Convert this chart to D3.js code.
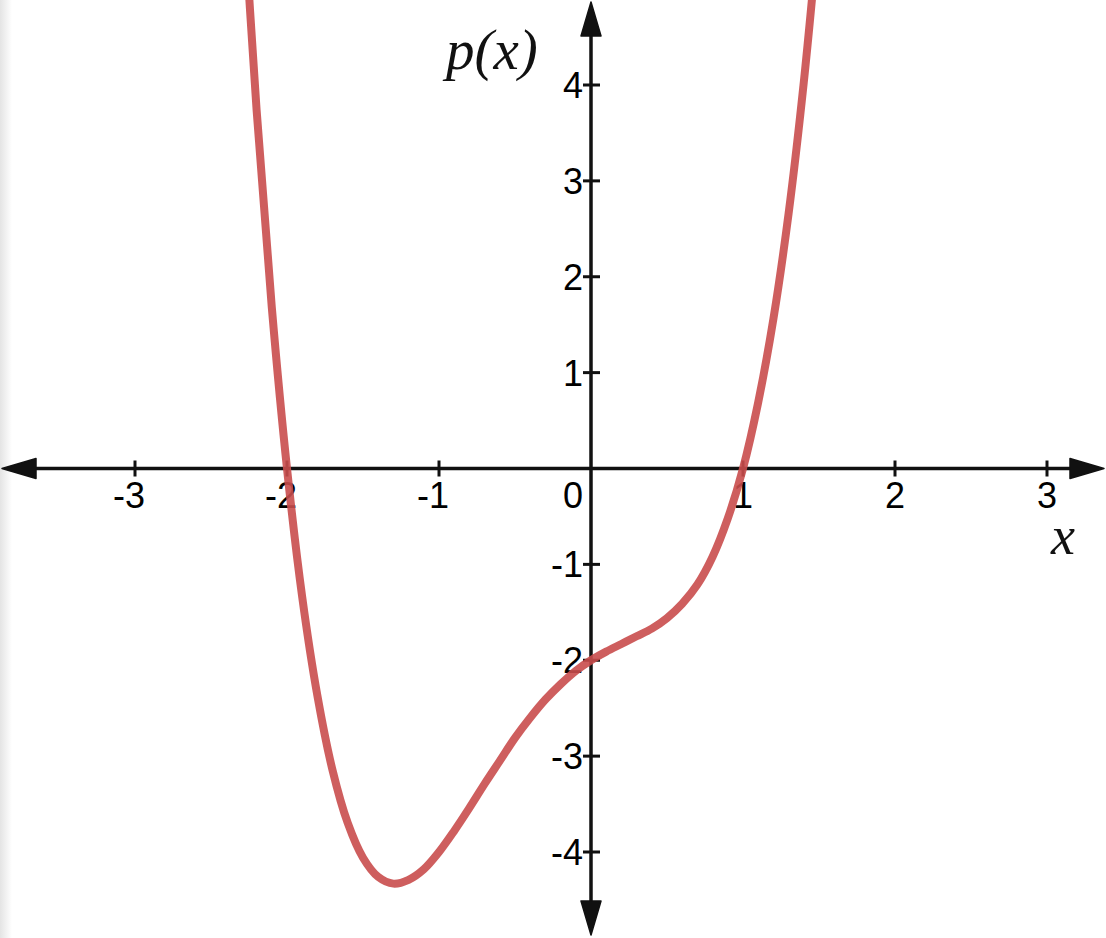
<!DOCTYPE html>
<html>
<head>
<meta charset="utf-8">
<script src="https://cdn.jsdelivr.net/npm/d3@7/dist/d3.min.js"></script>
<style>
  html, body { margin: 0; padding: 0; background: #fff; }
  svg { display: block; }
</style>
</head>
<body>
<svg id="chart" width="1106" height="938"></svg>
<script>
// ---- data ----
const xTicks = [-3, -2, -1, 0, 1, 2, 3];
const yTicks = [-4, -3, -2, -1, 1, 2, 3, 4];
const xLabels = ["-3", "-2", "-1", "0", "1", "2", "3"];
const yLabels = ["-4", "-3", "-2", "-1", "1", "2", "3", "4"];
const curveX = [-2.3, -2.2, -2.1, -2.0, -1.9, -1.8, -1.7, -1.6, -1.5, -1.4, -1.3, -1.2, -1.1, -1.0,
                -0.9, -0.8, -0.7, -0.6, -0.5, -0.4, -0.3, -0.2, -0.1, 0.0, 0.1, 0.2, 0.3, 0.4,
                0.5, 0.6, 0.7, 0.8, 0.9, 1.0, 1.1, 1.2, 1.3, 1.4, 1.5];
const curveY = [6.23, 3.74, 1.68, 0.0, -1.34, -2.37, -3.15, -3.70, -4.06, -4.26, -4.33, -4.29, -4.18, -4.0,
                -3.78, -3.54, -3.29, -3.05, -2.81, -2.60, -2.41, -2.25, -2.11, -2.0, -1.91, -1.83, -1.75, -1.67,
                -1.56, -1.41, -1.21, -0.92, -0.52, 0.0, 0.69, 1.56, 2.66, 4.03, 5.69];
const xAxisLabel = "x";
const yAxisLabel = "p(x)";

// ---- drawing ----
const W = 1106, H = 938;
const svg = d3.select("#chart");

const x = d3.scaleLinear().domain([-3, 3]).range([135, 1047]);
const y = d3.scaleLinear().domain([-4, 4]).range([852, 85]);
const x0 = x(0), y0 = y(0);

// faint gray edge at left
const defs = svg.append("defs");
const grad = defs.append("linearGradient").attr("id", "edge").attr("x1", 0).attr("x2", 1).attr("y1", 0).attr("y2", 0);
grad.append("stop").attr("offset", 0).attr("stop-color", "#e4e4e4");
grad.append("stop").attr("offset", 1).attr("stop-color", "#ffffff");
svg.append("rect").attr("x", 0).attr("y", 0).attr("width", 12).attr("height", H).attr("fill", "url(#edge)");

const axisColor = "#111";
const g = svg.append("g");

// axis lines
g.append("line").attr("x1", 20).attr("x2", W - 20).attr("y1", y0).attr("y2", y0)
  .attr("stroke", axisColor).attr("stroke-width", 3.5);
g.append("line").attr("x1", x0).attr("x2", x0).attr("y1", 20).attr("y2", H - 20)
  .attr("stroke", axisColor).attr("stroke-width", 3.5);

// arrowheads
const ah = 34, hw = 10;
g.append("path").attr("d", `M2,${y0} L${2 + ah},${y0 - hw} L${2 + ah},${y0 + hw} Z`).attr("fill", axisColor)
  .attr("stroke", axisColor).attr("stroke-width", 1.5).attr("stroke-linejoin", "round");
g.append("path").attr("d", `M${W - 2},${y0} L${W - 2 - ah},${y0 - hw} L${W - 2 - ah},${y0 + hw} Z`).attr("fill", axisColor)
  .attr("stroke", axisColor).attr("stroke-width", 1.5).attr("stroke-linejoin", "round");
g.append("path").attr("d", `M${x0},2 L${x0 - hw},${2 + ah} L${x0 + hw},${2 + ah} Z`).attr("fill", axisColor)
  .attr("stroke", axisColor).attr("stroke-width", 1.5).attr("stroke-linejoin", "round");
g.append("path").attr("d", `M${x0},${H - 3} L${x0 - hw},${H - 3 - ah} L${x0 + hw},${H - 3 - ah} Z`).attr("fill", axisColor)
  .attr("stroke", axisColor).attr("stroke-width", 1.5).attr("stroke-linejoin", "round");

// x ticks
xTicks.forEach((t, i) => {
  if (t !== 0) {
    g.append("line").attr("x1", x(t)).attr("x2", x(t)).attr("y1", y0 - 8).attr("y2", y0 + 8)
      .attr("stroke", axisColor).attr("stroke-width", 3);
  }
  g.append("text")
    .attr("x", t === 0 ? x(t) - 8 : x(t) + 10)
    .attr("y", y0 + 39)
    .attr("text-anchor", "end")
    .attr("font-family", "'Liberation Sans', Arial, sans-serif")
    .attr("font-size", 36)
    .attr("fill", "#000")
    .text(xLabels[i]);
});

// y ticks
yTicks.forEach((t, i) => {
  g.append("line").attr("x1", x0 - 8).attr("x2", x0 + 9).attr("y1", y(t)).attr("y2", y(t))
    .attr("stroke", axisColor).attr("stroke-width", 3);
  g.append("text")
    .attr("x", x0 - 8)
    .attr("y", y(t) + 13)
    .attr("text-anchor", "end")
    .attr("font-family", "'Liberation Sans', Arial, sans-serif")
    .attr("font-size", 36)
    .attr("fill", "#000")
    .text(yLabels[i]);
});

// axis labels
svg.append("text").attr("x", 1063).attr("y", 554).attr("text-anchor", "middle")
  .attr("font-family", "'Liberation Serif', 'Times New Roman', serif").attr("font-style", "italic")
  .attr("font-size", 54).attr("fill", "#111").text(xAxisLabel);
svg.append("text").attr("x", 446).attr("y", 69).attr("text-anchor", "start")
  .attr("font-family", "'Liberation Serif', 'Times New Roman', serif").attr("font-style", "italic")
  .attr("font-size", 57).attr("fill", "#111").text(yAxisLabel);

// curve
defs.append("clipPath").attr("id", "clip").append("rect").attr("x", 0).attr("y", 0).attr("width", W).attr("height", H);
const pts = curveX.map((v, i) => [v, curveY[i]]);
const line = d3.line().x(d => x(d[0])).y(d => y(d[1])).curve(d3.curveCatmullRom.alpha(0.5));
svg.append("path").datum(pts)
  .attr("clip-path", "url(#clip)")
  .attr("d", line)
  .attr("fill", "none")
  .attr("stroke", "#c94c4c")
  .attr("stroke-opacity", 0.9)
  .attr("stroke-width", 8)
  .attr("stroke-linejoin", "round");
</script>
</body>
</html>
